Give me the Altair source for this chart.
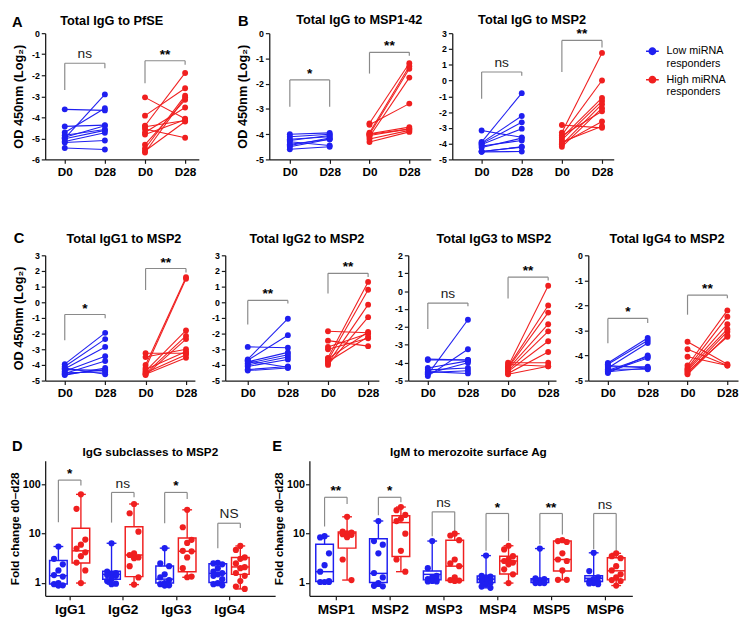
import altair as alt
import pandas as pd

BLUE = "#1f1ff0"
RED = "#f01f1f"
GRAY = "#8a8a8a"
INK = "#1a1a1a"
FONT = "Liberation Sans"
GROUPS = ["Low", "High"]

# ---------------- Panel A : Total IgG to PfSE (OD450, log2) ----------------
A_LOW_D0 = [-3.62, -4.43, -4.72, -4.85, -5.00, -5.02, -5.15, -5.20, -5.46, -4.95]
A_LOW_D28 = [-3.67, -4.37, -3.57, -4.58, -2.91, -4.62, -4.73, -5.10, -5.53, -4.40]
A_HIGH_D0 = [-3.05, -3.92, -4.40, -4.55, -4.72, -4.82, -5.30, -5.48, -5.60, -5.67, -4.45]
A_HIGH_D28 = [-4.07, -2.62, -1.89, -4.97, -3.53, -4.12, -3.17, -2.97, -4.20, -3.05, -4.15]
A_BRACKETS = [("Low", -2.70, -1.43, -1.67, "ns"), ("High", -2.38, -1.31, -1.50, "**")]

# ---------------- Panel B : MSP1-42 and MSP2 ----------------
B1_LOW_D0 = [-4.00, -4.10, -4.20, -4.30, -4.40, -4.50, -4.60, -4.25, -4.45]
B1_LOW_D28 = [-3.95, -4.00, -4.10, -4.45, -4.20, -4.20, -4.50, -4.05, -4.15]
B1_HIGH_D0 = [-3.57, -3.63, -3.94, -3.98, -4.01, -4.05, -4.10, -4.19, -4.31, -4.00]
B1_HIGH_D28 = [-1.19, -2.79, -1.31, -3.72, -1.41, -3.79, -1.76, -3.85, -3.91, -3.80]
B1_BRACKETS = [("Low", -2.91, -1.85, -2.91, "*"), ("High", -1.60, -0.76, -0.89, "**")]

B2_LOW_D0 = [-3.17, -3.90, -3.95, -4.00, -4.05, -4.15, -4.25, -4.50, -4.52, -4.50]
B2_LOW_D28 = [-3.60, -0.80, -2.25, -2.65, -3.05, -3.80, -3.65, -4.20, -4.50, -4.22]
B2_HIGH_D0 = [-2.82, -3.30, -3.46, -3.62, -3.76, -3.90, -4.06, -4.20, -3.50, -4.00]
B2_HIGH_D28 = [-3.00, 1.75, 0.00, -1.10, -1.30, -2.90, -1.50, -1.75, -1.95, -2.60]
B2_BRACKETS = [("Low", -1.16, 0.54, 0.30, "ns"), ("High", 0.54, 2.54, 2.10, "**")]

# ---------------- Panel C : IgG subclasses to MSP2 ----------------
C1_LOW_D0 = [-3.95, -4.10, -4.25, -4.40, -4.55, -4.65, -4.30, -4.50, -4.20, -4.60]
C1_LOW_D28 = [-1.95, -2.35, -2.85, -3.45, -3.75, -4.20, -4.35, -4.45, -4.60, -4.30]
C1_HIGH_D0 = [-3.25, -3.50, -4.00, -4.20, -4.40, -4.55, -4.65, -4.30, -4.50, -4.60]
C1_HIGH_D28 = [-3.25, -3.00, 1.60, 1.50, -1.80, -2.15, -2.35, -3.15, -3.35, -3.55]
C1_BRACKETS = [("Low", -2.43, -0.78, -1.02, "*"), ("High", 0.79, 2.16, 1.90, "**")]

C2_LOW_D0 = [-2.85, -3.65, -3.70, -3.80, -3.90, -4.00, -4.10, -4.30, -4.36, -3.75]
C2_LOW_D28 = [-2.90, -1.05, -2.10, -3.20, -3.35, -3.50, -3.65, -4.10, -4.20, -4.15]
C2_HIGH_D0 = [-1.85, -2.45, -2.85, -3.00, -3.55, -3.70, -3.90, -4.00, -3.80, -3.60]
C2_HIGH_D28 = [-1.95, -2.80, -2.00, -2.30, 1.30, 0.80, -0.15, -0.95, -2.20, -1.90]
C2_BRACKETS = [("Low", -1.42, 0.12, -0.08, "**"), ("High", 0.56, 1.85, 1.61, "**")]

C3_LOW_D0 = [-3.80, -3.85, -4.30, -4.40, -4.55, -4.65, -4.75, -4.50, -4.60]
C3_LOW_D28 = [-3.85, -3.85, -3.90, -4.30, -4.45, -1.60, -3.25, -4.60, -4.00]
C3_HIGH_D0 = [-4.00, -4.10, -4.20, -4.25, -4.30, -4.35, -4.45, -4.50, -4.60, -4.65]
C3_HIGH_D28 = [-4.00, -4.20, 0.30, -0.80, -1.20, -1.85, -2.25, -2.80, -3.40, -4.20]
C3_BRACKETS = [("Low", -2.12, -0.67, -0.84, "ns"), ("High", -0.41, 0.78, 0.59, "**")]

C4_LOW_D0 = [-4.30, -4.35, -4.45, -4.50, -4.60, -4.65, -4.70, -4.55, -4.40, -4.65]
C4_LOW_D28 = [-3.30, -3.40, -4.45, -3.50, -4.05, -4.50, -4.00, -4.55, -4.50, -4.10]
C4_HIGH_D0 = [-3.45, -3.75, -4.05, -4.40, -4.50, -4.55, -4.60, -4.70, -4.75, -4.65]
C4_HIGH_D28 = [-4.35, -4.40, -4.40, -2.20, -2.45, -2.75, -2.95, -3.05, -3.20, -3.25]
C4_BRACKETS = [("Low", -3.51, -2.52, -2.70, "*"), ("High", -2.37, -1.59, -1.71, "**")]

# ---------------- Panel D : fold change IgG subclasses ----------------
D_CATS = ["IgG1", "IgG2", "IgG3", "IgG4"]
D_LOW_MIN = [0.89, 0.95, 0.89, 0.89]
D_LOW_Q1 = [0.96, 1.20, 1.00, 1.03]
D_LOW_MED = [1.41, 1.50, 1.20, 1.57]
D_LOW_Q3 = [2.87, 1.74, 2.22, 2.47]
D_LOW_MAX = [5.5, 6.4, 5.1, 2.58]
D_HIGH_MIN = [1.00, 0.93, 1.31, 0.76]
D_HIGH_Q1 = [2.54, 1.35, 1.70, 1.50]
D_HIGH_MED = [4.5, 3.7, 4.4, 2.12]
D_HIGH_Q3 = [12.9, 13.9, 8.2, 3.3]
D_HIGH_MAX = [62.7, 40.0, 30.5, 5.65]
D_LOW_POINTS = [
    [5.5, 3.1, 2.4, 1.8, 1.45, 1.35, 1.0, 0.95, 0.9, 0.89],
    [6.4, 1.7, 1.6, 1.5, 1.45, 1.4, 1.2, 1.1, 0.97, 0.95],
    [5.1, 2.5, 2.2, 1.5, 1.3, 1.15, 1.0, 0.95, 0.9, 0.89],
    [2.58, 2.5, 2.4, 2.0, 1.7, 1.6, 1.5, 1.4, 1.2, 1.0, 0.95, 0.9],
]
D_HIGH_POINTS = [
    [62.7, 32.0, 7.6, 6.0, 5.0, 4.2, 3.5, 2.6, 1.8, 1.0],
    [40.0, 26.0, 11.0, 4.0, 3.7, 3.3, 3.2, 2.2, 1.3, 0.93],
    [30.5, 13.5, 7.5, 6.5, 4.5, 4.4, 3.3, 2.0, 1.35, 1.31],
    [5.65, 4.7, 3.3, 3.1, 2.5, 2.1, 2.0, 1.6, 1.4, 1.1, 0.85, 0.76],
]
D_BRACKETS = [(17.0, 122.0, 95.0, "*"), (16.8, 68.6, 54.6, "ns"),
              (16.3, 68.6, 50.6, "*"), (5.1, 16.3, 13.0, "NS")]

# ---------------- Panel E : IgM fold change ----------------
E_CATS = ["MSP1", "MSP2", "MSP3", "MSP4", "MSP5", "MSP6"]
E_LOW_MIN = [1.05, 0.86, 1.08, 0.80, 1.00, 0.98]
E_LOW_Q1 = [1.08, 1.03, 1.16, 1.03, 1.03, 1.08]
E_LOW_MED = [1.70, 1.57, 1.50, 1.20, 1.16, 1.25]
E_LOW_Q3 = [6.1, 7.9, 1.75, 1.39, 1.22, 1.41]
E_LOW_MAX = [8.9, 18.1, 7.1, 3.6, 5.0, 4.1]
E_HIGH_MIN = [1.15, 1.70, 1.12, 1.00, 1.16, 0.89]
E_HIGH_Q1 = [5.1, 3.45, 1.13, 1.53, 1.75, 1.16]
E_HIGH_MED = [10.3, 16.8, 2.2, 2.8, 3.0, 1.77]
E_HIGH_Q3 = [10.9, 23.2, 7.4, 3.5, 7.1, 3.25]
E_HIGH_MAX = [22.0, 34.7, 10.0, 5.7, 7.4, 4.0]
E_LOW_POINTS = [
    [8.9, 8.4, 4.0, 2.3, 1.7, 1.1, 1.05, 1.05, 1.05],
    [18.1, 7.1, 6.0, 4.0, 1.6, 1.3, 1.0, 0.88, 0.86],
    [7.1, 2.0, 1.4, 1.3, 1.2, 1.2, 1.1, 1.08, 1.08],
    [3.6, 1.4, 1.35, 1.3, 1.25, 1.2, 1.15, 1.1, 1.0, 0.95, 0.85, 0.8],
    [5.0, 1.25, 1.2, 1.15, 1.1, 1.05, 1.0, 1.0, 1.0],
    [4.1, 1.75, 1.3, 1.2, 1.1, 1.05, 1.0, 0.98, 0.95],
]
E_HIGH_POINTS = [
    [22.0, 11.0, 10.5, 10.2, 9.8, 9.5, 8.5, 3.0, 1.15],
    [34.7, 30.0, 24.0, 20.0, 18.0, 10.0, 4.5, 3.0, 1.7],
    [10.0, 9.2, 7.4, 3.0, 2.5, 2.2, 1.3, 1.15, 1.12, 1.1],
    [5.7, 4.8, 3.5, 3.0, 2.8, 2.6, 2.4, 1.9, 1.5, 1.0],
    [7.4, 7.1, 6.8, 4.0, 3.0, 2.8, 1.8, 1.16, 1.16],
    [4.0, 3.5, 3.2, 2.2, 1.8, 1.5, 1.3, 1.15, 1.1, 0.89],
]
E_BRACKETS = [(14.0, 54.7, 40.0, "**"), (23.8, 54.7, 43.6, "*"), (8.9, 27.7, 11.2, "ns"),
              (4.5, 25.7, 7.1, "*"), (6.1, 25.7, 9.6, "**"), (4.9, 25.7, 4.5, "ns")]

LEGEND_EXPR = "datum.label == 'Low' ? ['Low miRNA', 'responders'] : ['High miRNA', 'responders']"
SYMBOL = "M-1,0L1,0M-0.5,0A0.5,0.5,0,1,1,0.5,0A0.5,0.5,0,1,1,-0.5,0Z"

COLOR = alt.Color(
    "grp:N",
    scale=alt.Scale(domain=GROUPS, range=[BLUE, RED]),
    legend=alt.Legend(title=None, orient="none", legendX=613, legendY=11,
                      labelExpr=LEGEND_EXPR, symbolType=SYMBOL, symbolSize=169,
                      symbolStrokeWidth=1.5, labelFont=FONT, labelFontSize=11,
                      labelFontWeight="normal", labelBaseline="middle",
                      labelOffset=7, rowPadding=3, labelColor="black"),
)

ONE = alt.Data(values=[{"k": 0}])
HYPHEN = "datum.value < 0 ? '-' + abs(datum.value) : '' + datum.value"


def decorations(letter, lpos, title, tx, ty, tsize):
    out = []
    if letter:
        out.append(alt.Chart(ONE).mark_text(text=letter, font=FONT, fontSize=15, fontWeight="bold",
                                            align="left", baseline="top", color="black")
                   .encode(x=alt.value(lpos[0]), y=alt.value(lpos[1])))
    out.append(alt.Chart(ONE).mark_text(text=title, font=FONT, fontSize=tsize, fontWeight="bold",
                                        align="center", baseline="alphabetic", color="black")
               .encode(x=alt.value(tx), y=alt.value(ty)))
    return out


def bracket_text(df, X, Y):
    stars = alt.Chart(df).transform_filter("datum.star").mark_text(
        font=FONT, fontSize=14, fontWeight="bold", baseline="bottom", dy=1, color="black"
    ).encode(x=X("xm:Q"), y=Y("y:Q"), text="t:N")
    ns = alt.Chart(df).transform_filter("!datum.star").mark_text(
        font=FONT, fontSize=14, fontWeight="normal", baseline="bottom", dy=-2, color=INK
    ).encode(x=X("xm:Q"), y=Y("y:Q"), text="t:N")
    return [stars, ns]


def pair_panel(letter, lpos, title, tdx, ty, ydom, low0, low28, high0, high28, brackets,
               width, height, lead, step, ytitle):
    rows = []
    for g, base, d0, d28 in (("Low", 0, low0, low28), ("High", 2, high0, high28)):
        for i, (a, b) in enumerate(zip(d0, d28)):
            rows.append(dict(grp=g, subj=f"{g}{i}", slot=base, v=a))
            rows.append(dict(grp=g, subj=f"{g}{i}", slot=base + 1, v=b))
    df = pd.DataFrame(rows)
    seg, lab = [], []
    for g, lb, top, rb, txt in brackets:
        L = 0 if g == "Low" else 2
        R = L + 1
        seg += [dict(x=L, x2=R, y=top, y2=top), dict(x=L, x2=L, y=lb, y2=top),
                dict(x=R, x2=R, y=rb, y2=top)]
        lab.append(dict(xm=L + 0.5, y=top, t=txt, star=txt.startswith("*")))
    seg_df, lab_df = pd.DataFrame(seg), pd.DataFrame(lab)

    xs = alt.Scale(domain=[-lead / step, (width - lead) / step], nice=False, zero=False)
    ys = alt.Scale(domain=list(ydom), nice=False, zero=False)
    xax = alt.Axis(values=[0, 1, 2, 3], labelExpr="datum.value % 2 == 0 ? 'D0' : 'D28'",
                   title=None, labelFontSize=12, labelPadding=3, tickSize=4, labelOverlap=False)
    yax = alt.Axis(values=list(range(ydom[0], ydom[1] + 1)), labelExpr=HYPHEN, labelOverlap=False,
                   title="OD 450nm (Log₂)" if ytitle else None,
                   labelFontSize=9, labelPadding=2, tickSize=4, titlePadding=6, titleFontSize=13)

    def X(f):
        return alt.X(f, scale=xs, axis=xax)

    def Y(f):
        return alt.Y(f, scale=ys, axis=yax)

    lines = alt.Chart(df).mark_line(strokeWidth=1.1).encode(
        x=X("slot:Q"), y=Y("v:Q"), detail="subj:N", color=COLOR)
    pts = alt.Chart(df).mark_circle(size=36, opacity=1).encode(x=X("slot:Q"), y=Y("v:Q"), color=COLOR)
    br = alt.Chart(seg_df).mark_rule(color=GRAY, strokeWidth=1.2).encode(
        x=X("x:Q"), x2="x2:Q", y=Y("y:Q"), y2="y2:Q")
    layers = [br] + bracket_text(lab_df, X, Y) + [lines, pts]
    layers += decorations(letter, lpos, title, width / 2 + tdx, ty, 13)
    return alt.layer(*layers).properties(width=width, height=height)


def box_panel(letter, lpos, title, tdx, ty, cats, low_stats, high_stats, low_pts, high_pts,
              brackets, width, height, lead, step):
    unit = step
    off, hw, cw, jit = 11.5 / unit, 9.0 / unit, 5.0 / unit, 4.5 / unit
    stats, pts = [], []
    for g, sgn, st, pl in (("Low", -1, low_stats, low_pts), ("High", 1, high_stats, high_pts)):
        lo, q1, med, q3, hi = st
        for ci, cat in enumerate(cats):
            p = ci + sgn * off
            stats.append(dict(grp=g, pos=p, bl=p - hw, br=p + hw, cl=p - cw, cr=p + cw,
                              lo=lo[ci], q1=q1[ci], med=med[ci], q3=q3[ci], hi=hi[ci]))
            for k, v in enumerate(sorted(pl[ci], reverse=True)):
                pts.append(dict(grp=g, x=p + [0, -1, 1][k % 3] * jit, v=v))
    sdf, pdf_ = pd.DataFrame(stats), pd.DataFrame(pts)
    seg, lab = [], []
    for ci, (lb, top, rb, txt) in enumerate(brackets):
        L, R = ci - off, ci + off
        seg += [dict(x=L, x2=R, y=top, y2=top), dict(x=L, x2=L, y=lb, y2=top),
                dict(x=R, x2=R, y=rb, y2=top)]
        lab.append(dict(xm=ci, y=top, t=txt, star=txt.startswith("*")))
    seg_df, lab_df = pd.DataFrame(seg), pd.DataFrame(lab)

    names = "[" + ",".join(f"'{c}'" for c in cats) + "]"
    xs = alt.Scale(domain=[-lead / step, (width - lead) / step], nice=False, zero=False)
    ys = alt.Scale(type="log", domain=[0.55, 300], nice=False)
    xax = alt.Axis(values=list(range(len(cats))), labelExpr=f"{names}[round(datum.value)]",
                   title=None, labelFontSize=14, labelPadding=3, tickSize=4, labelOverlap=False)
    yax = alt.Axis(values=[1, 10, 100], format="d", title="Fold change d0–d28", labelOverlap=False,
                   labelFontSize=11, labelPadding=1, tickSize=4, titlePadding=1, titleFontSize=12)

    def X(f):
        return alt.X(f, scale=xs, axis=xax)

    def Y(f):
        return alt.Y(f, scale=ys, axis=yax)

    base = alt.Chart(sdf)
    wlo = base.mark_rule(strokeWidth=1.4).encode(x=X("pos:Q"), y=Y("lo:Q"), y2="q1:Q", color=COLOR)
    whi = base.mark_rule(strokeWidth=1.4).encode(x=X("pos:Q"), y=Y("q3:Q"), y2="hi:Q", color=COLOR)
    box = base.mark_rect(filled=False, strokeWidth=1.5).encode(
        x=X("bl:Q"), x2="br:Q", y=Y("q1:Q"), y2="q3:Q", color=COLOR)
    medl = base.mark_rule(strokeWidth=1.5).encode(x=X("bl:Q"), x2="br:Q", y=Y("med:Q"), color=COLOR)
    caplo = base.mark_rule(strokeWidth=1.4).encode(x=X("cl:Q"), x2="cr:Q", y=Y("lo:Q"), color=COLOR)
    caphi = base.mark_rule(strokeWidth=1.4).encode(x=X("cl:Q"), x2="cr:Q", y=Y("hi:Q"), color=COLOR)
    dots = alt.Chart(pdf_).mark_circle(size=40, opacity=1).encode(x=X("x:Q"), y=Y("v:Q"), color=COLOR)
    br = alt.Chart(seg_df).mark_rule(color=GRAY, strokeWidth=1.2).encode(
        x=X("x:Q"), x2="x2:Q", y=Y("y:Q"), y2="y2:Q")
    layers = [wlo, whi, box, medl, caplo, caphi, br] + bracket_text(lab_df, X, Y) + [dots]
    layers += decorations(letter, lpos, title, width / 2 + tdx, ty, 12)
    return alt.layer(*layers).properties(width=width, height=height)


H1, H2, H3 = 129, 128, 138

A = pair_panel("A", (-34, -18), "Total IgG to PfSE", -10.5, -8, (-6, 0),
               A_LOW_D0, A_LOW_D28, A_HIGH_D0, A_HIGH_D28, A_BRACKETS, 157, H1, 20, 41, True)
B1 = pair_panel("B", (-32, -19), "Total IgG to MSP1-42", 9.5, -9, (-5, 0),
                B1_LOW_D0, B1_LOW_D28, B1_HIGH_D0, B1_HIGH_D28, B1_BRACKETS, 165, H1, 21, 40.7, True)
B2 = pair_panel(None, None, "Total IgG to MSP2", -1, -9, (-5, 3),
                B2_LOW_D0, B2_LOW_D28, B2_HIGH_D0, B2_HIGH_D28, B2_BRACKETS, 165, H1, 30, 41, False)
C1 = pair_panel("C", (-32, -25), "Total IgG1 to MSP2", 4, -13, (-5, 3),
                C1_LOW_D0, C1_LOW_D28, C1_HIGH_D0, C1_HIGH_D28, C1_BRACKETS, 153, H2, 20, 41.3, True)
C2 = pair_panel(None, None, "Total IgG2 to MSP2", 5, -13, (-5, 3),
                C2_LOW_D0, C2_LOW_D28, C2_HIGH_D0, C2_HIGH_D28, C2_BRACKETS, 157, H2, 23, 41, False)
C3 = pair_panel(None, None, "Total IgG3 to MSP2", 12, -13, (-5, 2),
                C3_LOW_D0, C3_LOW_D28, C3_HIGH_D0, C3_HIGH_D28, C3_BRACKETS, 151, H2, 20, 41, False)
C4 = pair_panel(None, None, "Total IgG4 to MSP2", 4, -13, (-5, 0),
                C4_LOW_D0, C4_LOW_D28, C4_HIGH_D0, C4_HIGH_D28, C4_BRACKETS, 153, H2, 20, 40.7, False)

D = box_panel("D", (-34, -22), "IgG subclasses to MSP2", -10, -5, D_CATS,
              (D_LOW_MIN, D_LOW_Q1, D_LOW_MED, D_LOW_Q3, D_LOW_MAX),
              (D_HIGH_MIN, D_HIGH_Q1, D_HIGH_MED, D_HIGH_Q3, D_HIGH_MAX),
              D_LOW_POINTS, D_HIGH_POINTS, D_BRACKETS, 235, H3, 25, 54.3)
E = box_panel("E", (-38, -22), "IgM to merozoite surface Ag", -2.5, -5, E_CATS,
              (E_LOW_MIN, E_LOW_Q1, E_LOW_MED, E_LOW_Q3, E_LOW_MAX),
              (E_HIGH_MIN, E_HIGH_Q1, E_HIGH_MED, E_HIGH_Q3, E_HIGH_MAX),
              E_LOW_POINTS, E_HIGH_POINTS, E_BRACKETS, 330, H3, 27, 55)

GAP1 = alt.Chart(ONE).mark_text(text=" ", opacity=0).encode(
    x=alt.value(0), y=alt.value(20)).properties(width=24, height=H1)

row1 = alt.hconcat(A, GAP1, B1, B2, spacing=7)
row2 = alt.hconcat(C1, C2, C3, C4, spacing=14)
row3 = alt.hconcat(D, E, spacing=-3)

chart = alt.vconcat(row1, alt.vconcat(row2, row3, spacing=42), spacing=55, padding=0) \
    .configure_view(stroke=None) \
    .configure_axis(grid=False, labelFont=FONT, titleFont=FONT, labelFontWeight="bold",
                    titleFontWeight="bold", labelColor="black", titleColor="black",
                    domainColor=INK, tickColor=INK, domainWidth=1.3, tickWidth=1.2)

chart.save("out.html", embed_options={"renderer": "svg", "actions": False})
